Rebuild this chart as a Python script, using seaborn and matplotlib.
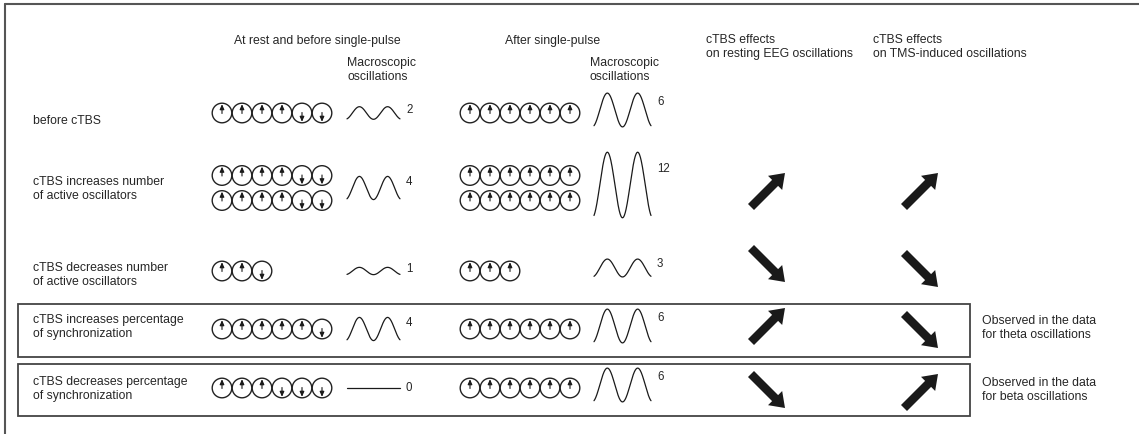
import numpy as np
import matplotlib
matplotlib.use("Agg")
import matplotlib.pyplot as plt
import matplotlib.patches as mpatches
import seaborn as sns

sns.set_theme(style="white")
plt.rcParams['font.family'] = ['Liberation Sans', 'DejaVu Sans']

# ---------------------------------------------------------------
# data of the schematic
# ---------------------------------------------------------------
row_labels = ["before cTBS",
              "cTBS increases number\nof active oscillators",
              "cTBS decreases number\nof active oscillators",
              "cTBS increases percentage\nof synchronization",
              "cTBS decreases percentage\nof synchronization"]

# oscillator phases, U = up, D = down (one string per line of circles)
before_osc = [["UUUUDD"], ["UUUUDD", "UUUUDD"], ["UUD"], ["UUUUUD"], ["UUUDDD"]]
after_osc = [["UUUUUU"], ["UUUUUU", "UUUUUU"], ["UUU"], ["UUUUUU"], ["UUUUUU"]]

# size of the macroscopic oscillation
before_amp = [2, 4, 1, 4, 0]
after_amp = [6, 12, 3, 6, 6]

# cTBS effect direction: 1 up, -1 down, 0 nothing drawn
eeg_effect = [0, 1, -1, 1, -1]
tms_effect = [0, 1, -1, -1, 1]

observed_notes = [None, None, None,
                  "Observed in the data\nfor theta oscillations",
                  "Observed in the data\nfor beta oscillations"]
boxed_rows = [3, 4]

# ---------------------------------------------------------------
# layout (pixel units, y grows downwards)
# ---------------------------------------------------------------
W, H = 1139, 434
FS = 8.8
row_y = [113, 188, 271, 329, 388]
text_y = [121, 189, 275, 327, 389]
eeg_y = [0, 190, 265, 325, 391]
tms_y = [0, 190, 270, 331, 391]
box_y = {3: (304, 357), 4: (364, 416)}
LINE_GAP = 25
R = 9.8
STEP = 20
X_BEFORE, X_AFTER = 222, 470
WAVE_BEFORE, WAVE_AFTER = (347, 400), (594, 651)
PX_PER_UNIT = 5.3
X_EEG, X_TMS = 768, 921


def draw_oscillators(ax, x0, yc, lines):
    n = len(lines)
    ys = [yc + (i - (n - 1) / 2) * LINE_GAP for i in range(n)]
    for y, states in zip(ys, lines):
        for k, s in enumerate(states):
            cx = x0 + k * STEP
            ax.add_patch(mpatches.Circle((cx, y), R, fill=False, lw=1.0, ec='#222'))
            if s == "U":
                tail, head = (cx, y + 0.5), (cx, y - R + 1)
            else:
                tail, head = (cx, y - 0.5), (cx, y + R - 1)
            ax.annotate("", xy=head, xytext=tail,
                        arrowprops=dict(arrowstyle="-|>,head_length=0.25,head_width=0.11",
                                        lw=0.8, color='k', shrinkA=0, shrinkB=0))


def draw_wave(ax, xr, yc, amp):
    x0, x1 = xr
    h = amp * PX_PER_UNIT + 2 if amp > 0 else 0
    t = np.linspace(0.12 * np.pi, 3.88 * np.pi, 200)
    xs = np.linspace(x0, x1, t.size)
    ys = yc + (h / 2) * np.cos(t)
    sns.lineplot(x=xs, y=ys, ax=ax, color='#1a1a1a', lw=0.9, sort=False, estimator=None)
    ax.text(x1 + 6, yc - 0.25 * h, str(amp), va='center', ha='left', fontsize=FS - 0.5)


def draw_effect(ax, cx, cy, direction):
    d = 17
    if direction > 0:
        start, delta = (cx - d, cy + d), (2 * d, -2 * d)
    else:
        start, delta = (cx - d, cy - d), (2 * d, 2 * d)
    ax.add_patch(mpatches.FancyArrow(start[0], start[1], delta[0], delta[1], width=8.5,
                                     head_width=20, head_length=14,
                                     length_includes_head=True, color='k', lw=0))


fig = plt.figure(figsize=(W / 100, H / 100), dpi=100)
ax = fig.add_axes([0, 0, 1, 1])

# outer frame (top and left only)
ax.plot([5, W], [4, 4], color='#555', lw=1.5, clip_on=False)
ax.plot([5, 5], [4, H], color='#555', lw=1.5, clip_on=False)

# column headers
ax.text(234, 41, "At rest and before single-pulse", fontsize=FS, va='center')
ax.text(505, 41, "After single-pulse", fontsize=FS, va='center')
ax.text(347, 70, "Macroscopic\noscillations", fontsize=FS, va='center', linespacing=1.25)
ax.text(590, 70, "Macroscopic\noscillations", fontsize=FS, va='center', linespacing=1.25)
ax.text(706, 47, "cTBS effects\non resting EEG oscillations", fontsize=FS, va='center', linespacing=1.25)
ax.text(873, 47, "cTBS effects\non TMS-induced oscillations", fontsize=FS, va='center', linespacing=1.25)

for i, label in enumerate(row_labels):
    ax.text(33, text_y[i], label, fontsize=FS, va='center', linespacing=1.3)
    draw_oscillators(ax, X_BEFORE, row_y[i], before_osc[i])
    draw_oscillators(ax, X_AFTER, row_y[i], after_osc[i])
    draw_wave(ax, WAVE_BEFORE, row_y[i], before_amp[i])
    draw_wave(ax, WAVE_AFTER, row_y[i] - 3, after_amp[i])
    if eeg_effect[i] != 0:
        draw_effect(ax, X_EEG, eeg_y[i], eeg_effect[i])
    if tms_effect[i] != 0:
        draw_effect(ax, X_TMS, tms_y[i], tms_effect[i])
    if observed_notes[i]:
        ax.text(982, text_y[i] + 1, observed_notes[i], fontsize=FS, va='center', linespacing=1.3)

for i in boxed_rows:
    y0, y1 = box_y[i]
    ax.add_patch(mpatches.Rectangle((18, y0), 952, y1 - y0, fill=False, ec='#444', lw=1.3))

ax.set_xlim(0, W)
ax.set_ylim(H, 0)
ax.axis('off')

fig.savefig("out.png", dpi=100)
